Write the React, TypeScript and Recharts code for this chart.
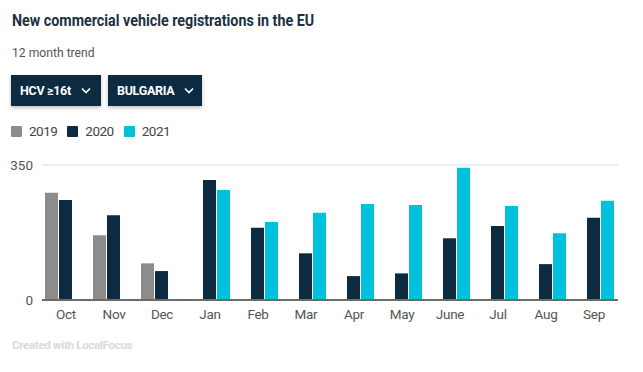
import { BarChart, Bar, XAxis, YAxis, CartesianGrid } from "recharts";

const months = ["Oct", "Nov", "Dec", "Jan", "Feb", "Mar", "Apr", "May", "June", "Jul", "Aug", "Sep"];
const y2019 = [278, 168, 95, null, null, null, null, null, null, null, null, null];
const y2020 = [259, 220, 75, 311, 187, 121, 62, 69, 160, 192, 93, 213];
const y2021 = [null, null, null, 285, 202, 226, 249, 246, 343, 244, 173, 257];
const yTicks = [0, 350];

const series = [
  { key: "y2019", label: "2019", color: "#8c8c8c" },
  { key: "y2020", label: "2020", color: "#0c2b40" },
  { key: "y2021", label: "2021", color: "#00c1dc" },
];

const data = months.map((m, i) => ({ m, y2019: y2019[i], y2020: y2020[i], y2021: y2021[i] }));

const font = "Roboto, sans-serif";

function Chevron() {
  return (
    <svg width="10" height="7" viewBox="0 0 10 7" style={{ marginLeft: 10 }}>
      <path d="M1 1.5 L5 5.5 L9 1.5" stroke="#fff" strokeWidth="1.6" fill="none" />
    </svg>
  );
}

function Button({ left, width, text }: { left: number; width: number; text: string }) {
  return (
    <div
      style={{
        position: "absolute", left, top: 75, width, height: 31, background: "#0c2b40",
        color: "#fff", fontWeight: 700, fontSize: 12.5, display: "flex", alignItems: "center",
        paddingLeft: 9, boxSizing: "border-box", boxShadow: "0 2px 4px rgba(0,0,0,0.25)",
        letterSpacing: -0.3,
      }}
    >
      {text}
      <Chevron />
    </div>
  );
}

export default function App() {
  return (
    <div style={{ position: "relative", width: 643, height: 372, margin: -8, fontFamily: font, background: "#fff" }}>
      <div
        style={{
          position: "absolute", left: 12, top: 10, fontSize: 17, fontWeight: 700, color: "#1b3142",
          transform: "scaleX(0.84)", transformOrigin: "left", whiteSpace: "nowrap",
        }}
      >
        New commercial vehicle registrations in the EU
      </div>
      <div
        style={{
          position: "absolute", left: 12, top: 44, fontSize: 13.5, color: "#555",
          transform: "scaleX(0.9)", transformOrigin: "left", whiteSpace: "nowrap",
        }}
      >
        12 month trend
      </div>
      <Button left={11} width={90} text="HCV ≥16t" />
      <Button left={108} width={94} text="BULGARIA" />
      <div style={{ position: "absolute", left: 11, top: 123, display: "flex", alignItems: "center", fontSize: 13.5, color: "#444" }}>
        {series.map((s) => (
          <div key={s.key} style={{ display: "flex", alignItems: "center", marginRight: 10 }}>
            <div style={{ width: 11, height: 11, background: s.color, borderRadius: 1, marginRight: 7 }} />
            <span style={{ letterSpacing: -0.5 }}>{s.label}</span>
          </div>
        ))}
      </div>
      <div style={{ position: "absolute", left: 0, top: 150 }}>
        <BarChart
          width={643}
          height={190}
          data={data}
          margin={{ top: 15, right: 25, bottom: 10, left: 0 }}
          barCategoryGap={3}
          barGap={1}
        >
          <CartesianGrid vertical={false} stroke="#e8e8e8" strokeWidth={1.5} />
          <YAxis
            domain={[0, 350]}
            ticks={yTicks}
            width={42}
            axisLine={false}
            tickLine={false}
            tickSize={0}
            tickMargin={9}
            tick={{ fill: "#555", fontSize: 13.5, fontFamily: font }}
          />
          <XAxis
            dataKey="m"
            tickLine={false}
            tickSize={0}
            tickMargin={9}
            axisLine={{ stroke: "#6b6b6b", strokeWidth: 2 }}
            tick={{ fill: "#555", fontSize: 13.5, fontFamily: font, letterSpacing: -0.3 }}
            height={30}
            interval={0}
          />
          {series.map((s) => (
            <Bar key={s.key} dataKey={s.key} fill={s.color} isAnimationActive={false} />
          ))}
        </BarChart>
      </div>
      <div style={{ position: "absolute", left: 12, top: 338, fontSize: 11.5, fontWeight: 700, color: "#dadada", letterSpacing: -0.3 }}>
        Created with LocalFocus
      </div>
    </div>
  );
}
